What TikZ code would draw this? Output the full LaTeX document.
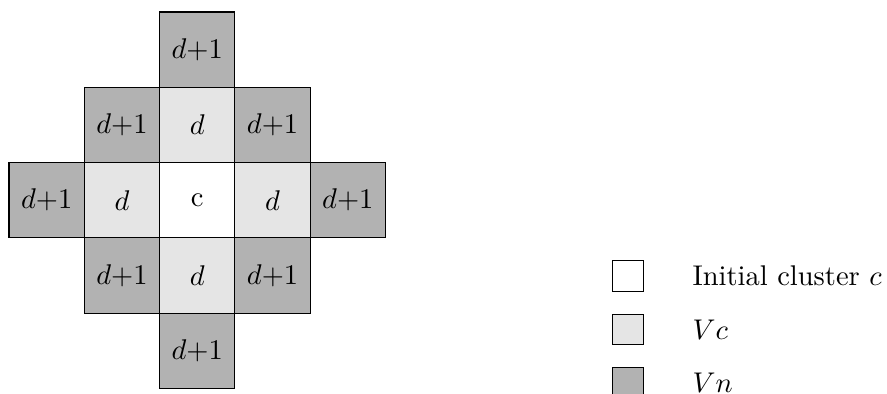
\documentclass[tikz,border=0pt]{standalone}
\begin{document}
\begin{tikzpicture}[x=0.3509pt,y=-0.3509pt,
  cell/.style={draw, minimum size=26.42pt, inner sep=0pt, outer sep=0pt},
  dark/.style={cell, fill=black!30},
  light/.style={cell, fill=black!10},
  whitecell/.style={cell, fill=white},
  keybox/.style={draw, minimum size=10.7pt, inner sep=0pt},
  keytext/.style={anchor=west, inner sep=0pt}]
\useasboundingbox (0,0) rectangle (887,394);
% row 0
\node[dark] (r0c2) at (197.25,49.65) {$d{+}1$};
% row 1
\node[dark]  (r1c1) at (121.95,124.95) {$d{+}1$};
\node[light] (r1c2) at (197.25,124.95) {$d$};
\node[dark]  (r1c3) at (272.55,124.95) {$d{+}1$};
% row 2
\node[dark]  (r2c0) at (46.65,200.25) {$d{+}1$};
\node[light] (r2c1) at (121.95,200.25) {$d$};
\node[whitecell] (r2c2) at (197.25,200.25) {c};
\node[light] (r2c3) at (272.55,200.25) {$d$};
\node[dark]  (r2c4) at (347.85,200.25) {$d{+}1$};
% row 3
\node[dark]  (r3c1) at (121.95,275.55) {$d{+}1$};
\node[light] (r3c2) at (197.25,275.55) {$d$};
\node[dark]  (r3c3) at (272.55,275.55) {$d{+}1$};
% row 4
\node[dark] (r4c2) at (197.25,350.85) {$d{+}1$};
% legend
\node[keybox, fill=white]    (k1) at (628,276) {};
\node[keybox, fill=black!10] (k2) at (628,329.5) {};
\node[keybox, fill=black!30] (k3) at (628,382.5) {};
\node[keytext] (t1) at (692,276) {Initial cluster $c$};
\node[keytext] (t2) at (692,329.5) {$Vc$};
\node[keytext] (t3) at (692,382.5) {$Vn$};
\end{tikzpicture}
\end{document}
